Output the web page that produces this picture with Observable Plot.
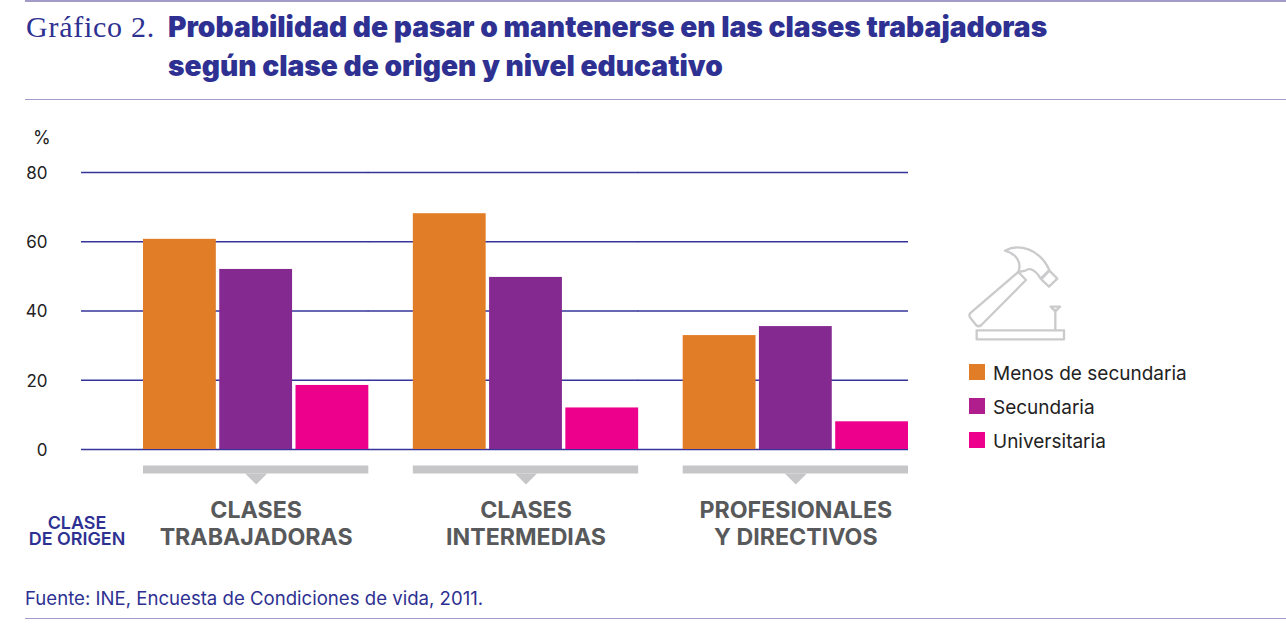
<!DOCTYPE html>
<html lang="es">
<head>
<meta charset="utf-8">
<script src="https://cdn.jsdelivr.net/npm/d3@7"></script>
<script src="https://cdn.jsdelivr.net/npm/@observablehq/plot@0.6"></script>
<style>
  html,body{margin:0;padding:0;background:#fff;}
  #page{position:relative;width:1286px;height:628px;overflow:hidden;font-family:Inter,sans-serif;}
  #page>div,#page>svg{position:absolute;}
  #chart{left:0;top:0;}
  .hr{left:25px;right:0;height:1.5px;background:#a19dc8;}
  .t{white-space:nowrap;}
  #kicker{left:26px;top:9px;font:400 30px/36px "Liberation Serif",serif;color:#2e3192;letter-spacing:.75px;}
  #title{left:168px;top:8px;font:900 28.2px/38.5px Inter,sans-serif;color:#2e3192;}
  #pct{left:33px;top:127px;font-size:18px;line-height:22px;color:#222;}
  #origin{left:27px;width:100px;top:514.5px;text-align:center;font:600 17.9px/16.5px Inter,sans-serif;color:#2e3192;white-space:pre-line;}
  #source{left:25px;top:586px;font-size:18.6px;line-height:24px;color:#2e3192;}
  #legend{left:969px;top:355px;}
  .row{display:flex;align-items:center;height:34px;font-size:19px;color:#222;white-space:nowrap;}
  .row b{font-weight:400;position:relative;top:1px;}
  .sw{width:16px;height:16px;margin-right:8px;}
  #chart svg text{font-family:Inter,sans-serif;}
</style>
</head>
<body>
<div id="page">
  <div id="chart"></div>
  <div class="hr" style="top:0"></div>
  <div class="hr" style="top:98.5px"></div>
  <div class="hr" style="top:617.5px"></div>
  <div id="kicker" class="t"></div>
  <div id="title" class="t"></div>
  <div id="pct" class="t">%</div>
  <div id="origin"></div>
  <div id="source" class="t"></div>
  <svg style="left:950px;top:230px" width="250" height="120" viewBox="0 0 750 360" fill="none" stroke="#cbcbcd" stroke-width="7" stroke-linejoin="round">
    <rect x="80" y="301" width="262" height="27"/>
    <path d="M316 301V236M302 230H330L316 244Z"/>
    <path d="M205 126L60 250Q56 258 62 265L78 285Q86 292 94 285L228 150Z"/>
    <path d="M165 62C205 40 268 55 298 120L272 146C258 122 240 110 226 122L205 126C216 98 200 72 165 62Z"/>
    <path d="M274 148L298 122L322 146L297 170Z"/>
  </svg>
  <div id="legend"></div>
</div>
<script>
const kicker = "Gráfico 2.";
const titleLines = ["Probabilidad de pasar o mantenerse en las clases trabajadoras", "según clase de origen y nivel educativo"];
const source = "Fuente: INE, Encuesta de Condiciones de vida, 2011.";
const originLines = ["CLASE", "DE ORIGEN"];

const groups = ["CLASES\nTRABAJADORAS", "CLASES\nINTERMEDIAS", "PROFESIONALES\nY DIRECTIVOS"];
const levels = ["Menos de secundaria", "Secundaria", "Universitaria"];
const menosDeSecundaria = [60.7, 68.1, 32.9];
const secundaria = [52, 49.7, 35.5];
const universitaria = [18.5, 12, 8];
const yTicks = [0, 20, 40, 60, 80];
const barColors = ["#e17d26", "#83298f", "#ec008c"];
const legendColors = ["#e17d26", "#b01e8e", "#ec008c"];

const seriesValues = [menosDeSecundaria, secundaria, universitaria];
const rows = levels.flatMap((level, l) =>
  groups.map((group, g) => ({group, level, value: seriesValues[l][g]})));
const laterGridRows = groups.slice(1).flatMap(group => yTicks.map(tick => ({group, tick})));

document.getElementById("kicker").textContent = kicker;
document.getElementById("title").innerHTML = titleLines.join("<br>");
document.getElementById("origin").textContent = originLines.join("\n");
document.getElementById("source").textContent = source;
document.getElementById("legend").innerHTML = levels.map((d, i) =>
  `<div class="row"><span class="sw" style="background:${legendColors[i]}"></span><b>${d}</b></div>`).join("");

// Flat downward wedge under each bracket; its size comes from the dot's r.
const wedge = {draw(context, size) {
  const w = Math.sqrt(size / Math.PI);
  context.moveTo(-w, 0);
  context.lineTo(w, 0);
  context.lineTo(0, w);
  context.closePath();
}};

const gridStyle = {stroke: "#34349a", strokeWidth: 1.3};
const plot = Plot.plot({
  width: 1286,
  height: 628,
  marginLeft: 143,
  marginRight: 378,
  marginTop: 172,
  marginBottom: 179,
  style: {background: "transparent", overflow: "visible"},
  fx: {domain: groups, range: [143, 908], paddingInner: 0.165, paddingOuter: 0, round: false, axis: null, label: null},
  x: {domain: levels, paddingInner: 0.045, paddingOuter: 0, round: false, axis: null, label: null},
  y: {domain: [0, 80], axis: null, label: null},
  color: {domain: levels, range: barColors},
  marks: [
    // Grid runs through the gaps between facets: the first facet reaches back to the axis, the others to the previous facet.
    Plot.ruleY(yTicks, {y: d => d, fx: () => groups[0], insetLeft: -62, ...gridStyle}),
    Plot.ruleY(laterGridRows, {y: "tick", fx: "group", insetLeft: -45, ...gridStyle}),
    Plot.text(yTicks, {y: d => d, fx: () => groups[0], text: d => String(d), frameAnchor: "left", dx: -96, dy: 1, textAnchor: "end", fontSize: 17, fill: "#222"}),
    Plot.barY(rows, {fx: "group", x: "level", y: "value", fill: "level"}),
    Plot.ruleY(groups, {y: () => 0, fx: d => d, dy: 20, stroke: "#c6c6c8", strokeWidth: 8}),
    Plot.dot(groups, {fx: d => d, frameAnchor: "bottom", dy: 24, symbol: wedge, r: 11, fill: "#c6c6c8", stroke: "none"}),
    Plot.text(groups, {fx: d => d, text: d => d, frameAnchor: "bottom", dy: 49, lineAnchor: "top", lineHeight: 1.165, fontSize: 23.2, fontWeight: 700, fill: "#58595b", textAnchor: "middle"})
  ]
});
document.getElementById("chart").append(plot);
</script>
</body>
</html>
